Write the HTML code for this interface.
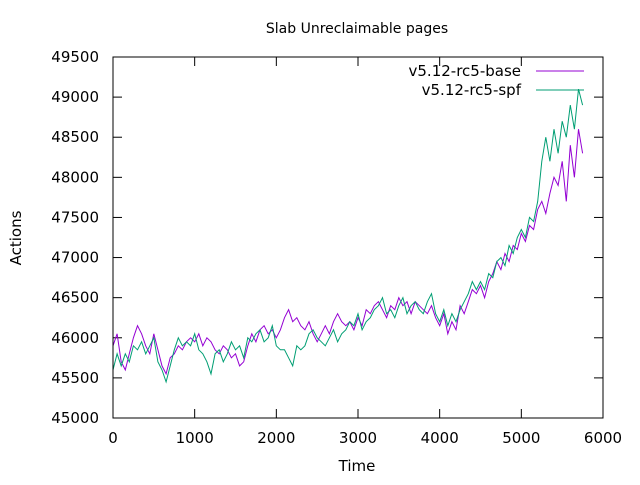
<!DOCTYPE html>
<html><head><meta charset="utf-8"><style>
body{margin:0;background:#fff}
svg text{font-family:"DejaVu Sans","Liberation Sans",sans-serif;fill:#000}
</style></head><body>
<svg id="chart" width="640" height="480" xmlns="http://www.w3.org/2000/svg">
<rect width="640" height="480" fill="#fff"/>
<text x="357" y="33" font-size="14" text-anchor="middle">Slab Unreclaimable pages</text>
<text x="357" y="471" font-size="15" text-anchor="middle">Time</text>
<text transform="translate(21,238) rotate(-90)" font-size="15" text-anchor="middle">Actions</text>
<g id="ticks"></g>
<g id="series"></g>
<rect x="113" y="57" width="490" height="361" fill="none" stroke="#000" stroke-width="1"/>
<g>
<text x="521" y="76" font-size="15" text-anchor="end">v5.12-rc5-base</text>
<line x1="536" y1="71" x2="584" y2="71" stroke="#9400d3"/>
<text x="521" y="95" font-size="15" text-anchor="end">v5.12-rc5-spf</text>
<line x1="536" y1="90" x2="584" y2="90" stroke="#009e73"/>
</g>
</svg>
<script>
const xTicks=[0,1000,2000,3000,4000,5000,6000];
const yTicks=[45000,45500,46000,46500,47000,47500,48000,48500,49000,49500];
const timeStep=50;
const baseValues=[45900,46050,45700,45600,45800,46000,46150,46050,45900,45800,46050,45850,45650,45550,45750,45800,45900,45850,45950,46000,45950,46050,45900,46000,45950,45850,45800,45900,45850,45750,45800,45650,45700,45900,46050,45950,46100,46150,46050,46100,46000,46100,46250,46350,46200,46250,46150,46100,46200,46050,45950,46050,46150,46050,46200,46300,46200,46150,46200,46100,46250,46150,46350,46300,46400,46450,46350,46250,46400,46350,46500,46400,46450,46300,46450,46400,46350,46300,46400,46250,46150,46300,46050,46200,46100,46400,46300,46450,46600,46550,46650,46500,46700,46800,46950,46850,47050,46950,47150,47100,47300,47200,47400,47350,47600,47700,47550,47800,48000,47900,48200,47700,48400,48000,48600,48300];
const spfValues=[45600,45800,45650,45800,45700,45900,45850,45950,45800,45900,46000,45700,45600,45450,45650,45850,46000,45900,45950,45900,46050,45850,45800,45700,45550,45800,45850,45700,45800,45950,45850,45900,45750,46000,45950,46050,46100,45950,46000,46150,45900,45850,45850,45750,45650,45900,45850,45900,46050,46100,46000,45950,45900,46000,46100,45950,46050,46100,46200,46150,46300,46100,46200,46250,46350,46400,46500,46300,46350,46250,46400,46500,46300,46400,46450,46350,46300,46450,46550,46300,46200,46350,46150,46300,46200,46350,46450,46550,46700,46600,46700,46600,46800,46750,46950,47000,46900,47150,47050,47250,47350,47250,47500,47450,47700,48200,48500,48200,48600,48300,48700,48500,48900,48600,49100,48900];
const X=v=>113+(v/6000)*490;
const Y=v=>418-((v-45000)/4500)*361;
const NS="http://www.w3.org/2000/svg";
const tg=document.getElementById('ticks');
function mk(tag,attrs,parent){const e=document.createElementNS(NS,tag);for(const k in attrs)e.setAttribute(k,attrs[k]);parent.appendChild(e);return e;}
xTicks.forEach(t=>{
 const x=X(t);
 const a=mk('line',{x1:x,y1:418,x2:x,y2:409,stroke:'#000'},tg);
 
 
 const b=mk('line',{x1:x,y1:57,x2:x,y2:66,stroke:'#000'},tg);
 
 
 const l=mk('text',{x:x,y:443,'font-size':15,'text-anchor':'middle'},tg);
 l.textContent=t;
 
 
});
yTicks.forEach(t=>{
 const y=Y(t);
 const a=mk('line',{x1:113,y1:y,x2:122,y2:y,stroke:'#000'},tg);
 
 
 const b=mk('line',{x1:603,y1:y,x2:594,y2:y,stroke:'#000'},tg);
 
 
 const l=mk('text',{x:99,y:y+5,'font-size':15,'text-anchor':'end'},tg);
 l.textContent=t;
 
 
});
const sg=document.getElementById('series');
function line(vals,color,name){
 const pts=vals.map((v,i)=>X(i*timeStep).toFixed(1)+','+Y(v).toFixed(1)).join(' ');
 const p=mk('polyline',{points:pts,fill:'none',stroke:color,'stroke-width':1},sg);
 
 
}
line(baseValues,'#9400d3','series-base');
line(spfValues,'#009e73','series-spf');
</script>
</body></html>
